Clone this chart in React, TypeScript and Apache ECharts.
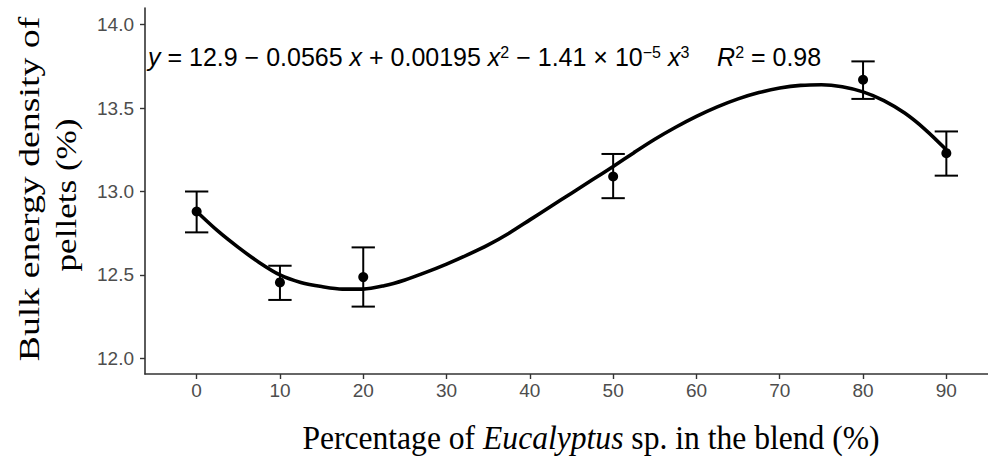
import React, { useEffect, useRef } from "react";
import * as echarts from "echarts";

// ---- data ----
const X_LEVELS = [0, 10, 20, 50, 80, 90];
const MEANS = [12.88, 12.455, 12.487, 13.09, 13.67, 13.23];
const ERR_LOW = [12.755, 12.35, 12.31, 12.96, 13.555, 13.095];
const ERR_HIGH = [13.0, 12.555, 12.665, 13.225, 13.78, 13.36];

// fitted curve
const CURVE_X = [
  0, 2.5, 5, 7.5, 10, 12.5, 15, 17.5, 20, 22.5, 25, 27.5, 30, 32.5, 35, 37.5, 40, 42.5, 45,
  47.5, 50, 52.5, 55, 57.5, 60, 62.5, 65, 67.5, 70, 72.5, 75, 77.5, 80, 82.5, 85, 87.5, 90,
];
const CURVE_Y = [
  12.88, 12.765, 12.665, 12.575, 12.5, 12.455, 12.43, 12.415, 12.415, 12.435, 12.47, 12.515,
  12.565, 12.62, 12.68, 12.75, 12.83, 12.91, 12.99, 13.07, 13.15, 13.233, 13.313, 13.385, 13.45,
  13.507, 13.555, 13.593, 13.62, 13.636, 13.64, 13.628, 13.597, 13.545, 13.47, 13.37, 13.25,
];

const X_TICKS = [0, 10, 20, 30, 40, 50, 60, 70, 80, 90];
const Y_TICKS = [12.0, 12.5, 13.0, 13.5, 14.0];

const EQUATION =
  "{i|y} = 12.9 − 0.0565 {i|x} + 0.00195 {i|x}{s|2} − 1.41 × 10{s|−5} {i|x}{s|3}    {i|R}{s|2} = 0.98";
const X_TITLE = "Percentage of {i|Eucalyptus} sp. in the blend (%)";
const Y_TITLE_1 = "Bulk energy density of";
const Y_TITLE_2 = "pellets (%)";

const ERR_HALF_WIDTH = 1.4;

export default function App() {
  const ref = useRef<HTMLDivElement>(null);

  useEffect(() => {
    if (!ref.current) return;
    const chart = echarts.init(ref.current, undefined, { renderer: "svg" });
    const sans = "'Liberation Sans', Arial, sans-serif";
    const serif = "'Liberation Serif', 'Times New Roman', serif";
    const axisColor = "#333333";

    chart.setOption({
      animation: false,
      backgroundColor: "#ffffff",
      grid: { left: 145, top: 8, right: 0, bottom: 84, containLabel: false },
      xAxis: {
        type: "value",
        min: -6.2,
        max: 95,
        splitLine: { show: false },
        axisLine: { show: true, onZero: false, lineStyle: { color: axisColor, width: 1.6 } },
        axisTick: {
          show: true,
          length: 5,
          customValues: X_TICKS,
          lineStyle: { color: axisColor, width: 1.4 },
        },
        axisLabel: {
          customValues: X_TICKS,
          color: "#4d4d4d",
          fontSize: 19,
          fontFamily: sans,
          margin: 7,
        },
      },
      yAxis: {
        type: "value",
        min: 11.906,
        max: 14.1,
        splitLine: { show: false },
        axisLine: { show: true, onZero: false, lineStyle: { color: axisColor, width: 1.6 } },
        axisTick: {
          show: true,
          length: 5,
          customValues: Y_TICKS,
          lineStyle: { color: axisColor, width: 1.4 },
        },
        axisLabel: {
          customValues: Y_TICKS,
          color: "#4d4d4d",
          fontSize: 19,
          fontFamily: sans,
          margin: 11,
          formatter: (v: number) => v.toFixed(1),
        },
      },
      series: [
        {
          type: "line",
          data: CURVE_X.map((x, i) => [x, CURVE_Y[i]]),
          smooth: 0.3,
          showSymbol: false,
          symbol: "none",
          lineStyle: { color: "#000", width: 3.6 },
          z: 2,
        },
        {
          type: "custom",
          data: X_LEVELS.map((x, i) => [x, ERR_LOW[i], ERR_HIGH[i]]),
          encode: { x: 0, y: [1, 2] },
          renderItem: (params: any, api: any) => {
            const x = api.value(0);
            const lo = api.value(1);
            const hi = api.value(2);
            const pLo = api.coord([x, lo]);
            const pHi = api.coord([x, hi]);
            const pL = api.coord([x - ERR_HALF_WIDTH, lo]);
            const pR = api.coord([x + ERR_HALF_WIDTH, lo]);
            const style = { stroke: "#000", lineWidth: 2 };
            return {
              type: "group",
              children: [
                { type: "line", shape: { x1: pLo[0], y1: pLo[1], x2: pHi[0], y2: pHi[1] }, style },
                { type: "line", shape: { x1: pL[0], y1: pHi[1], x2: pR[0], y2: pHi[1] }, style },
                { type: "line", shape: { x1: pL[0], y1: pLo[1], x2: pR[0], y2: pLo[1] }, style },
              ],
            };
          },
          z: 3,
        },
        {
          type: "scatter",
          data: X_LEVELS.map((x, i) => [x, MEANS[i]]),
          symbol: "circle",
          symbolSize: 10,
          itemStyle: { color: "#000", opacity: 1 },
          z: 4,
        },
      ],
      graphic: [
        {
          type: "text",
          x: 148,
          y: 57,
          style: {
            text: EQUATION,
            fontFamily: sans,
            fontSize: 25,
            fill: "#000",
            align: "left",
            verticalAlign: "middle",
            lineHeight: 26,
            rich: {
              i: { fontStyle: "italic", fontFamily: sans, fontSize: 25, lineHeight: 26 },
              s: { fontFamily: sans, fontSize: 16, lineHeight: 14, verticalAlign: "top" },
            },
          },
        },
        {
          type: "text",
          x: 591,
          y: 438,
          scaleY: 1.08,
          style: {
            text: X_TITLE,
            fontFamily: serif,
            fontSize: 31.6,
            fill: "#000",
            align: "center",
            verticalAlign: "middle",
            rich: {
              i: { fontStyle: "italic", fontFamily: serif, fontSize: 31.6 },
            },
          },
        },
        {
          type: "text",
          x: 29,
          y: 189,
          rotation: Math.PI / 2,
          scaleX: 1.26,
          style: {
            text: Y_TITLE_1,
            fontFamily: serif,
            fontSize: 30,
            fill: "#000",
            align: "center",
            verticalAlign: "middle",
          },
        },
        {
          type: "text",
          x: 66,
          y: 195,
          rotation: Math.PI / 2,
          scaleX: 1.17,
          style: {
            text: Y_TITLE_2,
            fontFamily: serif,
            fontSize: 30,
            fill: "#000",
            align: "center",
            verticalAlign: "middle",
          },
        },
      ],
    });

    return () => chart.dispose();
  }, []);

  return <div ref={ref} style={{ width: 988, height: 458, position: "absolute", left: 0, top: 0 }} />;
}
